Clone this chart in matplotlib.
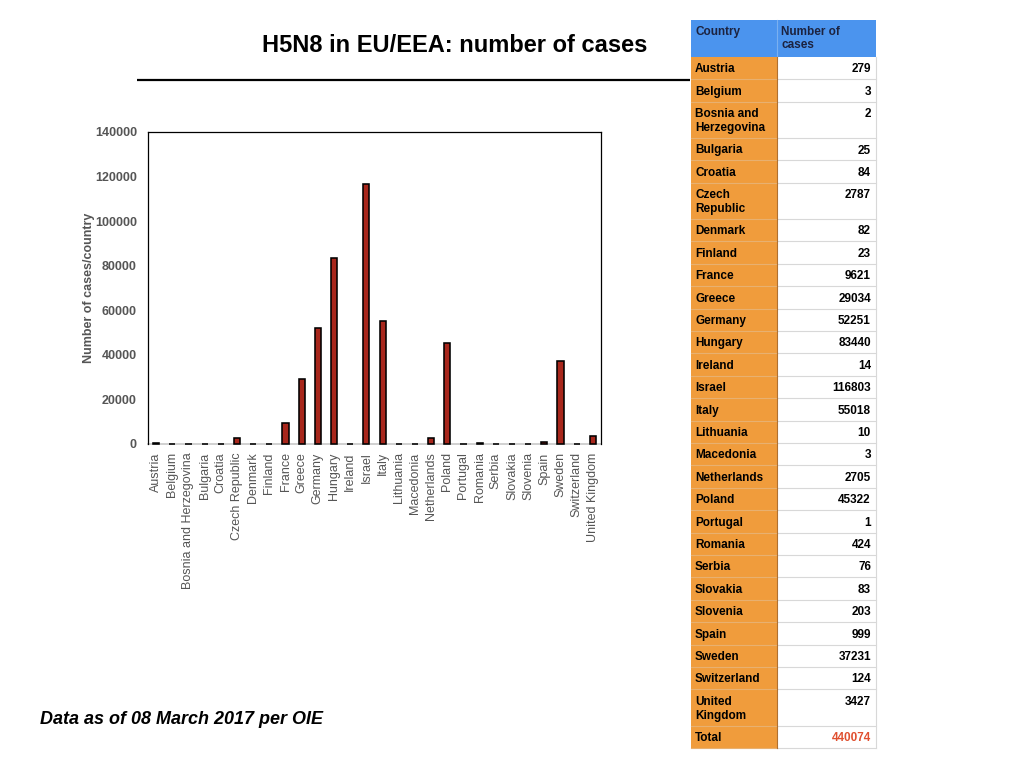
import matplotlib
matplotlib.use("Agg")
import matplotlib.pyplot as plt
from matplotlib.patches import Rectangle

plt.rcParams['font.family'] = ['Liberation Sans', 'DejaVu Sans']

countries = ["Austria", "Belgium", "Bosnia and Herzegovina", "Bulgaria", "Croatia",
             "Czech Republic", "Denmark", "Finland", "France", "Greece", "Germany",
             "Hungary", "Ireland", "Israel", "Italy", "Lithuania", "Macedonia",
             "Netherlands", "Poland", "Portugal", "Romania", "Serbia", "Slovakia",
             "Slovenia", "Spain", "Sweden", "Switzerland", "United Kingdom"]
cases = [279, 3, 2, 25, 84, 2787, 82, 23, 9621, 29034, 52251, 83440, 14, 116803,
         55018, 10, 3, 2705, 45322, 1, 424, 76, 83, 203, 999, 37231, 124, 3427]
table_names = ["Austria", "Belgium", "Bosnia and\nHerzegovina", "Bulgaria", "Croatia",
               "Czech\nRepublic", "Denmark", "Finland", "France", "Greece", "Germany",
               "Hungary", "Ireland", "Israel", "Italy", "Lithuania", "Macedonia",
               "Netherlands", "Poland", "Portugal", "Romania", "Serbia", "Slovakia",
               "Slovenia", "Spain", "Sweden", "Switzerland", "United\nKingdom"]
total_cases = 440074
y_ticks = [0, 20000, 40000, 60000, 80000, 100000, 120000, 140000]

W, H = 1024, 768
fig = plt.figure(figsize=(W / 100, H / 100), dpi=100)

# overlay axes in pixel coordinates for table/title
ov = fig.add_axes([0, 0, 1, 1])
ov.set_xlim(0, W)
ov.set_ylim(H, 0)
ov.axis('off')

# bar chart
ax = fig.add_axes([148 / W, 1 - 444 / H, (601 - 148) / W, (444 - 132) / H])
x = list(range(len(countries)))
bars = ax.bar(x, cases, width=0.38, color='#a8271c', edgecolor='black', linewidth=1.15, zorder=3)
for b in bars:
    b.set_clip_on(False)
ax.set_xlim(-0.5, len(countries) - 0.5)
ax.set_ylim(0, 140000)
ax.set_yticks(y_ticks)
ax.set_yticklabels([str(v) for v in y_ticks], fontsize=9, fontweight='bold', color='#555555')
ax.set_xticks(x)
ax.set_xticklabels(countries, rotation=90, fontsize=9, color='#555555')
ax.tick_params(axis='both', length=0)
ax.tick_params(axis='y', pad=8)
ax.tick_params(axis='x', pad=6)
ax.set_ylabel("Number of cases/country", fontsize=9, fontweight='bold', color='#555555', labelpad=0)
for s in ['left', 'top', 'right']:
    ax.spines[s].set_color('black')
    ax.spines[s].set_linewidth(0.9)
ax.spines['bottom'].set_color('#c8c8c8')
ax.spines['bottom'].set_linewidth(1.2)
ax.spines['bottom'].set_zorder(2)

# title and rule
ov.text(455, 46, "H5N8 in EU/EEA: number of cases", ha='center', va='center',
        fontsize=17, fontweight='bold', color='black')
ov.plot([137, 690], [80, 80], color='black', lw=1.6, solid_capstyle='butt')
ov.text(40, 720, "Data as of 08 March 2017 per OIE", ha='left', va='center',
        fontsize=13, fontweight='bold', style='italic', color='black')

# table
tx0, tx1, tx2 = 691, 777, 876
top = 20
hdr_h = 37
blue = '#4b94ee'
orange = '#f09c3c'
grid = '#d8d8d8'
ov.add_patch(Rectangle((tx0, top), tx2 - tx0, hdr_h, facecolor=blue, edgecolor='none'))
ov.plot([tx1, tx1], [top, top + hdr_h], color='#7ab0f0', lw=0.8)
ov.text(tx0 + 4, top + 6, "Country", ha='left', va='top', fontsize=8.5, fontweight='bold',
        color='#1c2340')
ov.text(tx1 + 4, top + 6, "Number of\ncases", ha='left', va='top', fontsize=8.5,
        fontweight='bold', color='#1c2340', linespacing=1.15)

rows = [(n, str(v), 'black') for n, v in zip(table_names, cases)]
rows.append(("Total", str(total_cases), '#e05030'))
y = top + hdr_h
for name, val, col in rows:
    h = 36.2 if "\n" in name else 22.4
    ov.add_patch(Rectangle((tx0, y), tx1 - tx0, h, facecolor=orange, edgecolor='none'))
    ov.add_patch(Rectangle((tx1, y), tx2 - tx1, h, facecolor='white', edgecolor='none'))
    ov.plot([tx1, tx2], [y + h, y + h], color=grid, lw=0.8)
    ov.plot([tx0, tx1], [y + h, y + h], color='#e8b070', lw=0.8)
    ov.text(tx0 + 4, y + 6.5, name, ha='left', va='top', fontsize=8.5, fontweight='bold',
            color='black', linespacing=1.2)
    ov.text(tx2 - 5, y + 6.5, val, ha='right', va='top', fontsize=8.5, fontweight='bold',
            color=col)
    y += h
ov.plot([tx2, tx2], [top + hdr_h, y], color=grid, lw=0.8)
ov.plot([tx1, tx1], [top + hdr_h, y], color='#b07030', lw=0.8)

fig.savefig("out.png", dpi=100)
